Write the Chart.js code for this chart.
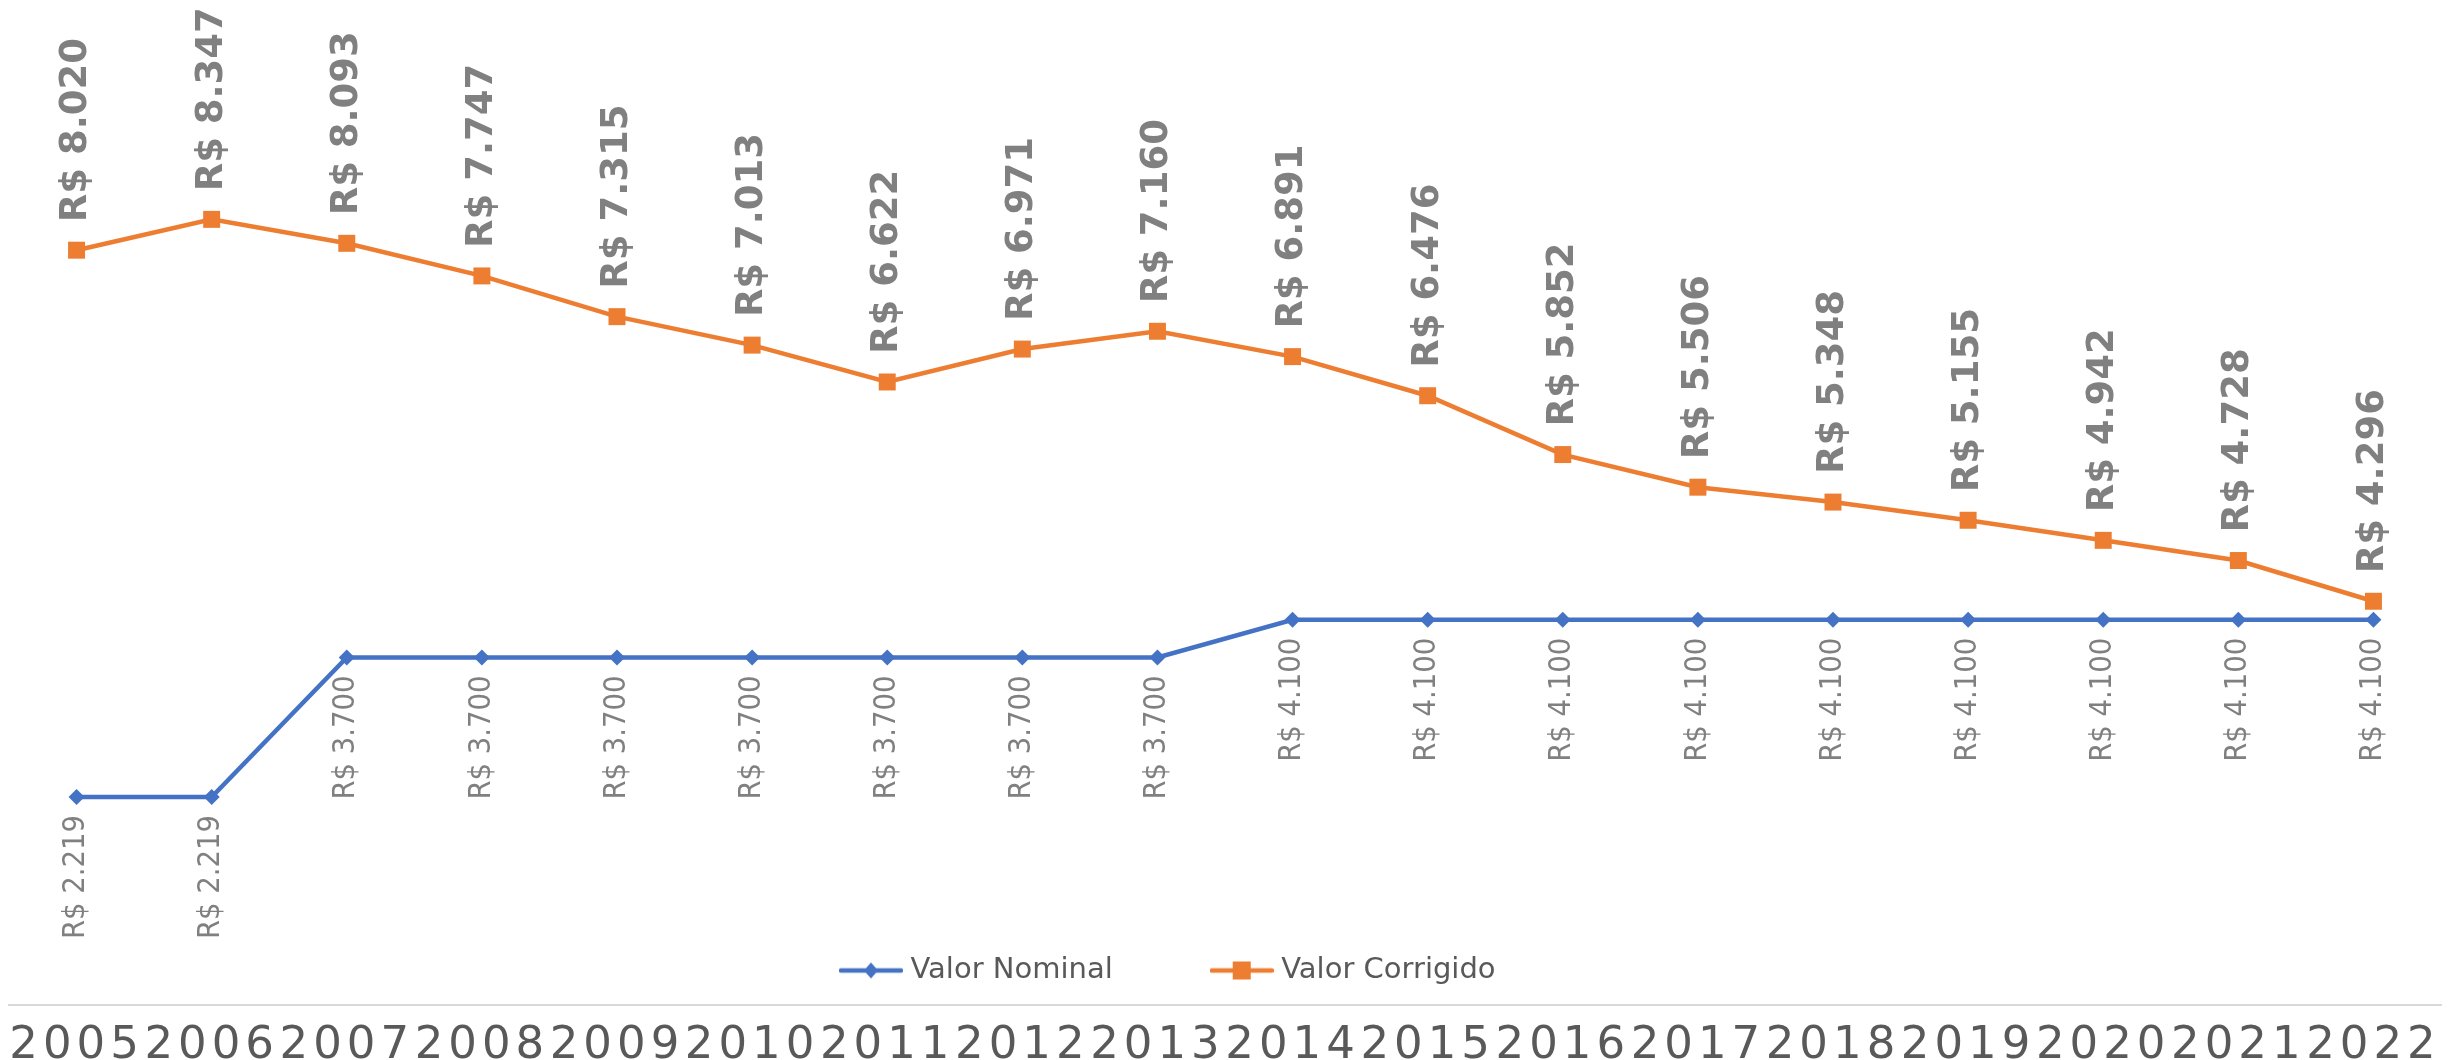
<!DOCTYPE html>
<html>
<head>
<meta charset="utf-8">
<script src="https://cdn.jsdelivr.net/npm/chart.js@4.4.1/dist/chart.umd.min.js"></script>
<style>
  html, body { margin: 0; padding: 0; background: #ffffff; }
  #chart { display: block; }
</style>
</head>
<body>
<canvas id="chart" width="2462" height="1060"></canvas>
<script>
// ---- data ----
const years = ['2005','2006','2007','2008','2009','2010','2011','2012','2013',
               '2014','2015','2016','2017','2018','2019','2020','2021','2022'];
const valorNominal = [2219, 2219, 3700, 3700, 3700, 3700, 3700, 3700, 3700,
                      4100, 4100, 4100, 4100, 4100, 4100, 4100, 4100, 4100];
const valorCorrigido = [8020, 8347, 8093, 7747, 7315, 7013, 6622, 6971, 7160,
                        6891, 6476, 5852, 5506, 5348, 5155, 4942, 4728, 4296];
const seriesNames = ['Valor Nominal', 'Valor Corrigido'];

// ---- styles ----
const BLUE = '#4472C4';
const ORANGE = '#ED7D31';
const LABEL_GRAY = '#808080';
const AXIS_TEXT = '#595959';
const FONT = '"DejaVu Sans", Verdana, sans-serif';

function fmt(v) {
  return 'R$ ' + String(v).replace(/\B(?=(\d{3})+(?!\d))/g, '.');
}

const LABEL_STYLES = [
  { font: '27.5px ' + FONT, align: 'right', offset: 18, stretch: 1.07 },   // Valor Nominal: below
  { font: 'bold 37px ' + FONT, align: 'left', offset: -28, stretch: 1.03 } // Valor Corrigido: above
];

function legendSymbol(color, shape) {
  const c = document.createElement('canvas');
  c.width = 64; c.height = 24;
  const g = c.getContext('2d');
  g.strokeStyle = color; g.lineWidth = 4.5; g.lineCap = 'round';
  g.beginPath(); g.moveTo(2, 12); g.lineTo(62, 12); g.stroke();
  g.fillStyle = color;
  g.beginPath();
  if (shape === 'diamond') {
    g.moveTo(25, 12); g.lineTo(32, 4); g.lineTo(39, 12); g.lineTo(32, 20);
  } else {
    g.rect(23, 3, 18, 18);
  }
  g.closePath(); g.fill();
  return c;
}
const legendSymbols = [legendSymbol(BLUE, 'diamond'), legendSymbol(ORANGE, 'square')];

const LEGEND_BOX = { left: 742, top: 852, width: 1720, height: 150 };

const dataLabelPlugin = {
  id: 'dataLabels',
  afterDatasetsDraw(chart) {
    const ctx = chart.ctx;
    chart.data.datasets.forEach((ds, di) => {
      const meta = chart.getDatasetMeta(di);
      const st = LABEL_STYLES[di];
      meta.data.forEach((pt, i) => {
        ctx.save();
        ctx.letterSpacing = '0px';
        ctx.translate(pt.x, pt.y + st.offset);
        ctx.rotate(-Math.PI / 2);
        ctx.scale(1, st.stretch);
        ctx.font = st.font;
        ctx.fillStyle = LABEL_GRAY;
        ctx.textAlign = st.align;
        ctx.textBaseline = 'middle';
        ctx.fillText(fmt(ds.data[i]), 0, 0);
        ctx.restore();
      });
    });
    // wide spacing for the category labels drawn next (ticks z = 1)
    ctx.letterSpacing = '5px';
  },
  afterDraw(chart) {
    chart.ctx.letterSpacing = '0px';
  }
};

const legendPlacePlugin = {
  id: 'legendPlace',
  afterLayout(chart) {
    const L = chart.legend;
    if (!L) return;
    L.left = LEGEND_BOX.left;
    L.top = LEGEND_BOX.top;
    L.width = LEGEND_BOX.width;
    L.height = LEGEND_BOX.height;
    L.right = L.left + L.width;
    L.bottom = L.top + L.height;
  }
};

new Chart(document.getElementById('chart'), {
  type: 'line',
  data: {
    labels: years,
    datasets: [
      {
        label: seriesNames[0],
        data: valorNominal,
        borderColor: BLUE,
        backgroundColor: BLUE,
        borderWidth: 4.5,
        pointStyle: 'rectRot',
        pointRadius: 8,
        pointBorderWidth: 0,
        pointBackgroundColor: BLUE,
        tension: 0,
        clip: false
      },
      {
        label: seriesNames[1],
        data: valorCorrigido,
        borderColor: ORANGE,
        backgroundColor: ORANGE,
        borderWidth: 4.5,
        pointStyle: 'rect',
        pointRadius: 12,
        pointBorderWidth: 0,
        pointBackgroundColor: ORANGE,
        tension: 0,
        clip: false
      }
    ]
  },
  options: {
    responsive: false,
    animation: false,
    devicePixelRatio: 1,
    layout: { autoPadding: false, padding: { left: 9, right: 21, top: 0, bottom: 0 } },
    scales: {
      x: {
        weight: 2000,
        offset: true,
        grid: { display: false },
        border: { display: true, color: '#d9d9d9', width: 2 },
        ticks: {
          z: 1,
          autoSkip: false,
          maxRotation: 0,
          minRotation: 0,
          padding: 6,
          color: AXIS_TEXT,
          font: { family: FONT, size: 45 }
        },
        afterFit(scale) { scale.height = 55; }
      },
      y: {
        display: false,
        min: 13,
        max: 10674
      }
    },
    plugins: {
      tooltip: { enabled: false },
      legend: {
        position: 'bottom',
        align: 'start',
        maxHeight: 0.001,
        labels: {
          usePointStyle: true,
          pointStyleWidth: 50,
          padding: 104,
          color: AXIS_TEXT,
          font: { family: FONT, size: 29 },
          generateLabels(chart) {
            const items = Chart.defaults.plugins.legend.labels.generateLabels(chart);
            items.forEach(it => { it.pointStyle = legendSymbols[it.datasetIndex]; });
            return items;
          }
        }
      }
    }
  },
  plugins: [dataLabelPlugin, legendPlacePlugin]
});
</script>
</body>
</html>
